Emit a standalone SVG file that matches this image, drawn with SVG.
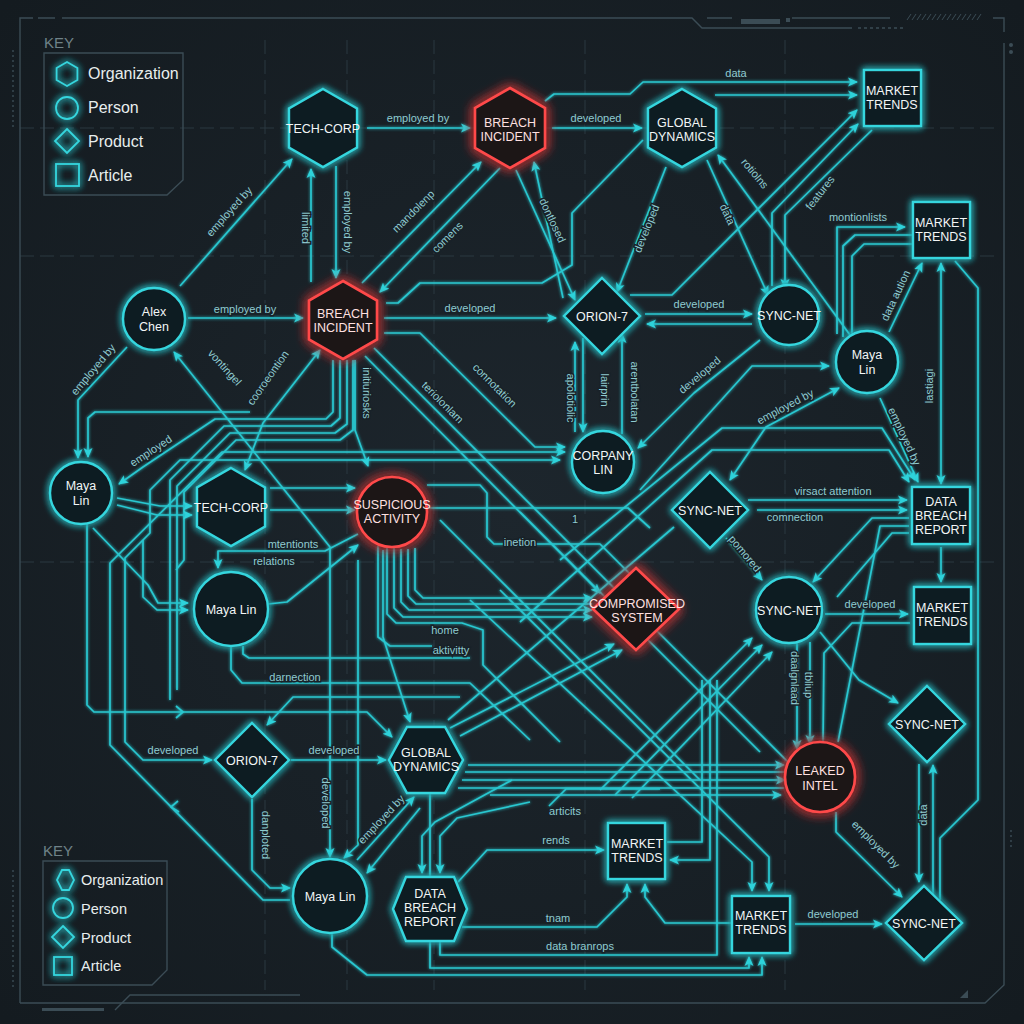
<svg xmlns="http://www.w3.org/2000/svg" width="1024" height="1024" viewBox="0 0 1024 1024">
<defs>
<radialGradient id="bg" cx="50%" cy="50%" r="70%">
<stop offset="0" stop-color="#1d262d"/>
<stop offset="1" stop-color="#141b20"/>
</radialGradient>
<filter id="gc" x="-40%" y="-40%" width="180%" height="180%">
<feGaussianBlur in="SourceGraphic" stdDeviation="3.5" result="b"/>
<feMerge><feMergeNode in="b"/><feMergeNode in="b"/><feMergeNode in="SourceGraphic"/></feMerge>
</filter>
<filter id="gr" x="-60%" y="-60%" width="220%" height="220%">
<feGaussianBlur in="SourceGraphic" stdDeviation="6" result="b"/>
<feMerge><feMergeNode in="b"/><feMergeNode in="b"/><feMergeNode in="SourceGraphic"/></feMerge>
</filter>
<filter id="gl" x="-5%" y="-5%" width="110%" height="110%">
<feGaussianBlur in="SourceGraphic" stdDeviation="1.6" result="b"/>
<feMerge><feMergeNode in="b"/><feMergeNode in="SourceGraphic"/></feMerge>
</filter>
<marker id="a" viewBox="0 0 10 10" refX="9" refY="5" markerWidth="10" markerHeight="10" markerUnits="userSpaceOnUse" orient="auto-start-reverse">
<path d="M0,0.5 L10,5 L0,9.5 L2.5,5 z" fill="#2fd2da"/>
</marker>
</defs>
<style>
.ln{fill:none;stroke:#29c7d0;stroke-width:1.7;stroke-linejoin:round}
.ar{marker-end:url(#a)}
.ab{marker-start:url(#a);marker-end:url(#a)}
.lb{font-family:'Liberation Sans','DejaVu Sans',sans-serif;font-size:11px;fill:#8fcbd0;text-anchor:middle;paint-order:stroke;stroke:#182128;stroke-width:3px}
.nd{fill:#111a20;stroke:#34d6de;stroke-width:2.4;filter:url(#gc)}
.rd{fill:#1c1619;stroke:#ff4a4a;stroke-width:2.6;filter:url(#gr)}
.nt{font-family:'Liberation Sans','DejaVu Sans',sans-serif;font-size:12.5px;fill:#f2f6f6;text-anchor:middle}
.rt{font-family:'Liberation Sans','DejaVu Sans',sans-serif;font-size:12.5px;fill:#ffe0e0;text-anchor:middle}
.fr{fill:none;stroke:#3b4c55;stroke-width:1.4}
.gd{fill:none;stroke:#2a3940;stroke-width:1;stroke-dasharray:14 6}
.kt{font-family:'Liberation Sans','DejaVu Sans',sans-serif;fill:#e8eeee}
.ks{fill:none;stroke:#34d6de;stroke-width:1.8;filter:url(#gc)}
</style>

<rect width="1024" height="1024" fill="url(#bg)"/>

<g id="grid">
<path class="gd" d="M265,40 V990 M347,40 V990 M434,40 V990 M585,40 V990 M785,40 V990 M20,128 H1000 M20,256 H1000 M20,562 H1000"/>
</g>

<g id="frame">
<path class="fr" d="M20,1003 V18 H33 M38,18 H55 M62,18 H692 L702,28 H852"/>
<path class="fr" stroke-dasharray="3 3" d="M858,28 H905"/>
<path class="fr" d="M707,18 H732 M792,18 H890 M993,18 H1004 V32 M1004,43 V985 L985,1003 H20"/>
<rect x="741" y="19" width="39" height="5" fill="#3b4c55"/>
<rect x="786" y="18" width="4" height="4" fill="#3b4c55"/>
<path d="M907,20 L911,14 M912,20 L916,14 M917,20 L921,14 M922,20 L926,14 M927,20 L931,14 M932,20 L936,14 M937,20 L941,14 M942,20 L946,14 M947,20 L951,14 M952,20 L956,14 M957,20 L961,14 M962,20 L966,14 M967,20 L971,14 M972,20 L976,14 M977,20 L981,14" stroke="#3b4c55" stroke-width="1"/>
<circle cx="1011" cy="45" r="2" fill="#3b4c55"/><circle cx="1011" cy="52" r="2" fill="#3b4c55"/>
<path class="fr" stroke-dasharray="2 3" d="M13,50 V130 M13,870 V990 M1011,830 V850"/>
<rect x="42" y="1008" width="62" height="3" fill="#3b4c55"/>
<path class="fr" d="M115,1010 L130,995 H300"/>
<path d="M960,998 L968,990 V998 Z" fill="#3b4c55"/>
</g>

<g id="key-top">
<text class="kt" x="44" y="48" font-size="15" style="fill:#6f8288">KEY</text>
<path class="fr" d="M44,53 H183 V180 L167,195 H44 Z"/>
<path class="ks" d="M67,62 L77.4,68 V80 L67,86 L56.6,80 V68 Z"/>
<circle class="ks" cx="67" cy="108" r="11"/>
<path class="ks" d="M67,129 L79,141 L67,153 L55,141 Z"/>
<rect class="ks" x="56" y="164" width="23" height="22"/>
<text class="kt" x="88" y="79" font-size="16">Organization</text>
<text class="kt" x="88" y="113" font-size="16">Person</text>
<text class="kt" x="88" y="147" font-size="16">Product</text>
<text class="kt" x="88" y="181" font-size="16">Article</text>
</g>

<g id="key-bottom">
<text class="kt" x="43" y="856" font-size="15" style="fill:#6f8288">KEY</text>
<path class="fr" d="M43,861 H167 V970 L152,985 H43 Z"/>
<path class="ks" d="M57,880 L62,870 H69 L74,880 L69,890 H62 Z"/>
<circle class="ks" cx="63" cy="908" r="10"/>
<path class="ks" d="M63,926 L74,937 L63,948 L52,937 Z"/>
<rect class="ks" x="54" y="957" width="18" height="18"/>
<text class="kt" x="81" y="885" font-size="14.5">Organization</text>
<text class="kt" x="81" y="914" font-size="14.5">Person</text>
<text class="kt" x="81" y="943" font-size="14.5">Product</text>
<text class="kt" x="81" y="971" font-size="14.5">Article</text>
</g>

<g id="connectors" filter="url(#gl)">
<path class="ln ar" d="M367,128 H470"/>
<path class="ln ar" d="M552,128 H642"/>
<path class="ln ar" d="M545,101 L554,94 H630 L643,82 H857"/>
<path class="ln ar" d="M715,95 H857"/>
<path class="ln ar" d="M180,286 L292,159"/>
<path class="ln ar" d="M311,282 V169"/>
<path class="ln ar" d="M336,166 V278"/>
<path class="ln ar" d="M362,283 L481,162"/>
<path class="ln ar" d="M500,168 L380,292"/>
<path class="ln ar" d="M188,318 H303"/>
<path class="ln ar" d="M384,318 H556"/>
<path class="ln ar" d="M516,170 L575,300"/>
<path class="ln ar" d="M563,298 L534,162"/>
<path class="ln ar" d="M666,167 L617,292"/>
<path class="ln ar" d="M707,160 L768,295"/>
<path class="ln ar" d="M850,335 L718,155"/>
<path class="ln ar" d="M630,295 H672 L857,110"/>
<path class="ln ar" d="M772,286 V213 L858,124"/>
<path class="ln ar" d="M872,130 L785,215 V288"/>
<path class="ln" d="M643,140 L572,213 V265 L542,283 H420 L398,303 H386"/>
<path class="ln ar" d="M837,334 V227 H905"/>
<path class="ln" d="M843,337 V246 L855,235 H912"/>
<path class="ln" d="M852,340 V256 L864,244 H912"/>
<path class="ln ar" d="M889,332 L922,263"/>
<path class="ln ab" d="M941,263 V484"/>
<path class="ln" d="M955,261 L978,288 V800 L940,838 V900"/>
<path class="ln ar" d="M919,764 V882"/>
<path class="ln ar" d="M933,898 V765"/>
<path class="ln ar" d="M645,314 H752"/>
<path class="ln ar" d="M752,324 H647"/>
<path class="ln ar" d="M575,432 V342"/>
<path class="ln ar" d="M583,338 V432"/>
<path class="ln ar" d="M622,434 V334"/>
<path class="ln ar" d="M760,340 L694,393 L638,448"/>
<path class="ln ab" d="M730,480 L766,427 L839,388"/>
<path class="ln ar" d="M640,490 L752,366 H829"/>
<path class="ln ar" d="M880,398 L918,482"/>
<path class="ln ar" d="M560,560 L722,428 H882 L915,480"/>
<path class="ln ar" d="M520,622 L712,450 H889 L909,482"/>
<path class="ln ar" d="M748,500 H907"/>
<path class="ln ar" d="M757,510 H907"/>
<path class="ln ar" d="M909,518 H872 L813,582"/>
<path class="ln" d="M909,533 H892 L837,597"/>
<path class="ln" d="M909,526 H880 L838,742"/>
<path class="ln ar" d="M726,538 L762,580"/>
<path class="ln ar" d="M941,547 V582"/>
<path class="ln ar" d="M825,614 H908"/>
<path class="ln ar" d="M797,643 V749"/>
<path class="ln ar" d="M810,642 V744"/>
<path class="ln" d="M910,623 H852 L824,653 L823,742"/>
<path class="ln ar" d="M820,632 L859,680 L898,703"/>
<path class="ln ar" d="M836,812 V832 L902,897"/>
<path class="ln ar" d="M795,924 H882"/>
<path class="ln ar" d="M468,765 H784"/>
<path class="ln" d="M465,772 H786"/>
<path class="ln ar" d="M462,780 H785"/>
<path class="ln" d="M458,788 H784"/>
<path class="ln ar" d="M490,795 H781"/>
<path class="ln ar" d="M291,760 H386"/>
<path class="ln ab" d="M560,460 H180 L150,490 V533 L125,558 V742 L143,760 H212"/>
<path class="ln ar" d="M460,697 H293 L267,725"/>
<path class="ln ar" d="M252,799 V870 L270,888 H290"/>
<path class="ln ar" d="M330,620 V547 L174,352"/>
<path class="ln ar" d="M330,620 V857"/>
<path class="ln ar" d="M357,860 L414,797"/>
<path class="ln ar" d="M420,808 L367,873"/>
<path class="ln ar" d="M358,560 V845 L344,858"/>
<path class="ln ar" d="M290,900 H263 L110,745 V563 L222,452 H565"/>
<path class="ln" d="M178,801 L171,807 L179,812"/>
<path class="ln ar" d="M87,524 V705 L94,712 H367 L392,737"/>
<path class="ln" d="M176,706 L183,712 L176,718"/>
<path class="ln ar" d="M512,780 L435,822 L422,836 V873"/>
<path class="ln ar" d="M530,802 L457,818 L440,836 V873"/>
<path class="ln" d="M430,793 V877"/>
<path class="ln ar" d="M458,882 L487,850 H604"/>
<path class="ln" d="M549,806 L566,789 H660"/>
<path class="ln ar" d="M462,927 H597 L627,897 V884"/>
<path class="ln ar" d="M732,923 H665 L645,897 V884"/>
<path class="ln ar" d="M430,942 V968 H749 V957"/>
<path class="ln ar" d="M332,933 V947 L367,975 H762 V957"/>
<path class="ln" d="M440,942 V955 H717 V680"/>
<path class="ln ar" d="M710,680 V860 H670"/>
<path class="ln" d="M667,842 H702 V680"/>
<path class="ln ar" d="M470,600 L752,862 V891"/>
<path class="ln ar" d="M500,590 L769,857 V891"/>
<path class="ln ar" d="M365,356 L600,593"/>
<path class="ln ar" d="M384,333 H420 L535,447 H565"/>
<path class="ln" d="M374,348 L690,664 L790,764"/>
<path class="ln" d="M440,520 L700,780"/>
<path class="ln" d="M520,512 L760,752"/>
<path class="ln ar" d="M450,728 L614,644"/>
<path class="ln ar" d="M460,736 L622,650"/>
<path class="ln ar" d="M600,790 L752,638"/>
<path class="ln ar" d="M615,795 L762,645"/>
<path class="ln ar" d="M632,798 L772,652"/>
<path class="ln" d="M448,720 L674,527"/>
<path class="ln" d="M427,485 H480 L487,493 V537 L494,544 H600 L660,604"/>
<path class="ln" d="M428,508 H628 L650,528"/>
<path class="ln ar" d="M415,548 V590 L423,598 H592"/>
<path class="ln" d="M408,549 V596 L416,604 H592"/>
<path class="ln ar" d="M401,549 V602 L409,610 H592"/>
<path class="ln ar" d="M394,548 V608 L403,617 H592"/>
<path class="ln" d="M387,548 V614 L396,623 H462 L483,630 V665 L560,742"/>
<path class="ln" d="M378,546 V637 L390,646 H432"/>
<path class="ln ar" d="M383,550 V637 L410,722"/>
<path class="ln ar" d="M333,360 V412 L326,419 H215 L143,467 L119,484"/>
<path class="ln" d="M340,360 V418 L331,426 H224 L170,480 V700"/>
<path class="ln" d="M347,360 V424 L335,433 H230 L177,486 V690"/>
<path class="ln" d="M353,360 V430 L340,440 H236 L184,492 V560 L176,570"/>
<path class="ln ar" d="M355,360 V430 L368,466"/>
<path class="ln ar" d="M127,347 L78,400 V458"/>
<path class="ln ar" d="M250,412 H95 L88,418 V457"/>
<path class="ln ab" d="M245,470 L263,423 L320,350"/>
<path class="ln ar" d="M117,498 L160,506 H192"/>
<path class="ln ar" d="M117,505 L157,515 H192"/>
<path class="ln ar" d="M93,528 L148,585 L158,603 H188"/>
<path class="ln ar" d="M143,540 V597 L157,610 H188"/>
<path class="ln ar" d="M270,488 H355"/>
<path class="ln ar" d="M270,510 H355"/>
<path class="ln ar" d="M268,604 L287,602 L358,545"/>
<path class="ln ar" d="M358,534 L325,551 H218 V568"/>
<path class="ln" d="M231,646 V670 L242,683 H470 L530,740"/>
<path class="ln" d="M243,646 V654 L249,658 H470"/>
</g>

<g id="labels">
<text class="lb" x="418" y="122">employed by</text>
<text class="lb" x="596" y="122">developed</text>
<text class="lb" x="736" y="77">data</text>
<text class="lb" transform="translate(232,214) rotate(-48)">employed by</text>
<text class="lb" transform="translate(302,228) rotate(90)">limited</text>
<text class="lb" transform="translate(344,222) rotate(90)">employed by</text>
<text class="lb" transform="translate(416,214) rotate(-45)">mandolenp</text>
<text class="lb" transform="translate(450,240) rotate(-45)">comens</text>
<text class="lb" x="245" y="313">employed by</text>
<text class="lb" x="470" y="312">developed</text>
<text class="lb" transform="translate(549,222) rotate(65)">dontlosed</text>
<text class="lb" transform="translate(650,230) rotate(-68)">developed</text>
<text class="lb" transform="translate(724,216) rotate(65)">data</text>
<text class="lb" transform="translate(752,176) rotate(50)">rotiolns</text>
<text class="lb" transform="translate(823,195) rotate(-52)">features</text>
<text class="lb" x="858" y="221">montionlists</text>
<text class="lb" transform="translate(899,297) rotate(-65)">data aution</text>
<text class="lb" transform="translate(933,386) rotate(-90)">lastiagi</text>
<text class="lb" x="699" y="308">developed</text>
<text class="lb" transform="translate(567,398) rotate(90)">apolotiolic</text>
<text class="lb" transform="translate(601,390) rotate(90)">lairprin</text>
<text class="lb" transform="translate(631,392) rotate(90)">arentbolatan</text>
<text class="lb" transform="translate(702,378) rotate(-40)">developed</text>
<text class="lb" transform="translate(787,410) rotate(-28)">employed by</text>
<text class="lb" transform="translate(901,438) rotate(65)">employed by</text>
<text class="lb" x="833" y="495">virsact attention</text>
<text class="lb" x="795" y="521">comnection</text>
<text class="lb" transform="translate(742,556) rotate(50)">pomored</text>
<text class="lb" x="870" y="608">developed</text>
<text class="lb" transform="translate(791,678) rotate(90)">daalgnlaad</text>
<text class="lb" transform="translate(805,685) rotate(90)">tbliup</text>
<text class="lb" transform="translate(873,847) rotate(45)">employed by</text>
<text class="lb" transform="translate(927,815) rotate(-90)">data</text>
<text class="lb" x="833" y="918">developed</text>
<text class="lb" x="173" y="754">developed</text>
<text class="lb" x="334" y="754">developed</text>
<text class="lb" x="295" y="681">darnection</text>
<text class="lb" transform="translate(262,835) rotate(90)">danploted</text>
<text class="lb" transform="translate(322,803) rotate(90)">developed</text>
<text class="lb" transform="translate(384,822) rotate(-47)">employed by</text>
<text class="lb" x="293" y="548">mtentionts</text>
<text class="lb" x="274" y="565">relations</text>
<text class="lb" x="445" y="634">home</text>
<text class="lb" x="451" y="654">aktivitty</text>
<text class="lb" x="520" y="546">inetion</text>
<text class="lb" x="575" y="523">1</text>
<text class="lb" x="565" y="815">articits</text>
<text class="lb" x="556" y="844">rends</text>
<text class="lb" x="558" y="922">tnam</text>
<text class="lb" x="580" y="950">data branrops</text>
<text class="lb" transform="translate(96,372) rotate(-50)">employed by</text>
<text class="lb" transform="translate(153,454) rotate(-33)">employed</text>
<text class="lb" transform="translate(222,370) rotate(48)">vontingel</text>
<text class="lb" transform="translate(271,380) rotate(-55)">cooroeontion</text>
<text class="lb" transform="translate(363,393) rotate(90)">initiuriosks</text>
<text class="lb" transform="translate(440,405) rotate(45)">teriolonlam</text>
<text class="lb" transform="translate(492,388) rotate(45)">connotation</text>
</g>

<g id="n-techcorp-top"><path class="nd" d="M323,89 L357,108.5 V147.5 L323,167 L289,147.5 V108.5 Z"/><text class="nt" x="323" y="133">TECH-CORP</text></g>
<g id="n-breach-top"><path class="rd" d="M510,88 L545,108 V148 L510,168 L475,148 V108 Z"/><text class="rt" x="510" y="127">BREACH</text><text class="rt" x="510" y="141">INCIDENT</text></g>
<g id="n-global-top"><path class="nd" d="M682,89 L716,108.5 V147.5 L682,167 L648,147.5 V108.5 Z"/><text class="nt" x="682" y="127">GLOBAL</text><text class="nt" x="682" y="141">DYNAMICS</text></g>
<g id="n-market-1"><rect class="nd" x="864" y="70" width="57" height="56"/><text class="nt" x="892" y="95">MARKET</text><text class="nt" x="892" y="109">TRENDS</text></g>
<g id="n-market-2"><rect class="nd" x="913" y="202" width="57" height="56"/><text class="nt" x="941" y="227">MARKET</text><text class="nt" x="941" y="241">TRENDS</text></g>
<g id="n-alex"><circle class="nd" cx="154" cy="319" r="31"/><text class="nt" x="154" y="316">Alex</text><text class="nt" x="154" y="331">Chen</text></g>
<g id="n-breach-mid"><path class="rd" d="M343,281 L377,300.5 V339.5 L343,359 L309,339.5 V300.5 Z"/><text class="rt" x="343" y="318">BREACH</text><text class="rt" x="343" y="332">INCIDENT</text></g>
<g id="n-orion-top"><path class="nd" d="M602,278 L640,316 L602,354 L564,316 Z"/><text class="nt" x="602" y="321">ORION-7</text></g>
<g id="n-sync-top"><circle class="nd" cx="789" cy="315" r="30"/><text class="nt" x="789" y="320">SYNC-NET</text></g>
<g id="n-maya-right"><circle class="nd" cx="867" cy="362" r="31"/><text class="nt" x="867" y="359">Maya</text><text class="nt" x="867" y="374">Lin</text></g>
<g id="n-company"><circle class="nd" cx="603" cy="462" r="31"/><text class="nt" x="603" y="460">CORPANY</text><text class="nt" x="603" y="474">LIN</text></g>
<g id="n-maya-left"><circle class="nd" cx="81" cy="493" r="31"/><text class="nt" x="81" y="490">Maya</text><text class="nt" x="81" y="505">Lin</text></g>
<g id="n-techcorp-mid"><path class="nd" d="M231,468 L265,487.5 V526.5 L231,546 L197,526.5 V487.5 Z"/><text class="nt" x="231" y="512">TECH-CORP</text></g>
<g id="n-suspicious"><circle class="rd" cx="392" cy="512" r="35"/><text class="rt" x="392" y="509">SUSPICIOUS</text><text class="rt" x="392" y="523">ACTIVITY</text></g>
<g id="n-maya-big"><circle class="nd" cx="231" cy="609" r="37"/><text class="nt" x="231" y="614">Maya Lin</text></g>
<g id="n-sync-diamond"><path class="nd" d="M710,472 L748,510 L710,548 L672,510 Z"/><text class="nt" x="710" y="515">SYNC-NET</text></g>
<g id="n-databreach-1"><rect class="nd" x="912" y="487" width="58" height="57"/><text class="nt" x="941" y="506">DATA</text><text class="nt" x="941" y="520">BREACH</text><text class="nt" x="941" y="534">REPORT</text></g>
<g id="n-compromised"><path class="rd" d="M636,568 L679,609 L636,650 L593,609 Z"/><text class="rt" x="637" y="608">COMPROMISED</text><text class="rt" x="637" y="622">SYSTEM</text></g>
<g id="n-sync-mid"><circle class="nd" cx="789" cy="610" r="33"/><text class="nt" x="789" y="615">SYNC-NET</text></g>
<g id="n-market-3"><rect class="nd" x="914" y="587" width="57" height="57"/><text class="nt" x="942" y="612">MARKET</text><text class="nt" x="942" y="626">TRENDS</text></g>
<g id="n-sync-right"><path class="nd" d="M927,686 L965,724 L927,762 L889,724 Z"/><text class="nt" x="927" y="729">SYNC-NET</text></g>
<g id="n-orion-bottom"><path class="nd" d="M252,723 L289,760 L252,797 L215,760 Z"/><text class="nt" x="252" y="765">ORION-7</text></g>
<g id="n-global-bottom"><path class="nd" d="M407,727 H445 L463,760 L445,793 H407 L389,760 Z"/><text class="nt" x="426" y="757">GLOBAL</text><text class="nt" x="426" y="771">DYNAMICS</text></g>
<g id="n-leaked"><circle class="rd" cx="820" cy="777" r="35"/><text class="rt" x="820" y="775">LEAKED</text><text class="rt" x="820" y="790">INTEL</text></g>
<g id="n-market-4"><rect class="nd" x="608" y="823" width="57" height="56"/><text class="nt" x="637" y="848">MARKET</text><text class="nt" x="637" y="862">TRENDS</text></g>
<g id="n-maya-bottom"><circle class="nd" cx="330" cy="896" r="37"/><text class="nt" x="330" y="901">Maya Lin</text></g>
<g id="n-databreach-2"><path class="nd" d="M406,877 H454 L467,909 L454,941 H406 L393,909 Z"/><text class="nt" x="430" y="898">DATA</text><text class="nt" x="430" y="912">BREACH</text><text class="nt" x="430" y="926">REPORT</text></g>
<g id="n-market-5"><rect class="nd" x="732" y="896" width="58" height="57"/><text class="nt" x="761" y="920">MARKET</text><text class="nt" x="761" y="934">TRENDS</text></g>
<g id="n-sync-bottom"><path class="nd" d="M924,886 L962,923 L924,960 L886,923 Z"/><text class="nt" x="924" y="928">SYNC-NET</text></g>
</svg>
